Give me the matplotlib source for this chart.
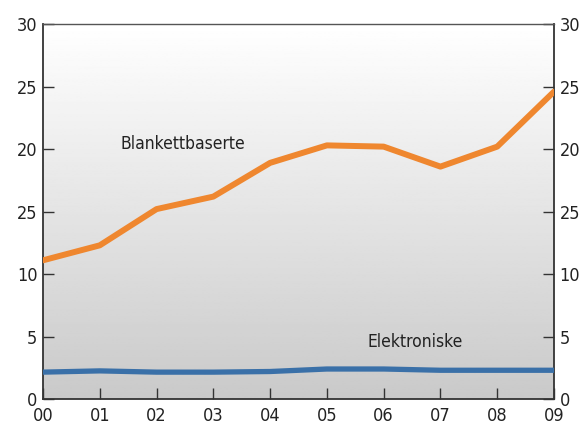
import numpy as np
import matplotlib

matplotlib.use("Agg")
import matplotlib.pyplot as plt

years = ["00", "01", "02", "03", "04", "05", "06", "07", "08", "09"]
blankett = [11.1, 12.3, 15.2, 16.2, 18.9, 20.3, 20.2, 18.6, 20.2, 24.6]
elektronisk = [2.15, 2.25, 2.15, 2.15, 2.2, 2.4, 2.4, 2.3, 2.3, 2.3]
y_ticks = [0, 5, 10, 15, 20, 25, 30]
y_tick_labels = ["0", "5", "10", "25", "20", "25", "30"]

plt.rcParams["font.family"] = ["DejaVu Sans"]
plt.rcParams["font.stretch"] = "condensed"

fig = plt.figure(figsize=(5.85, 4.32), dpi=100)
ax = fig.add_axes([0.0735, 0.0764, 0.8735, 0.8676])

x = np.arange(len(years))

# gradient background: white at top, grey at bottom
grad = np.linspace(0.79, 1.0, 256).reshape(-1, 1)
ax.imshow(grad, cmap="gray", vmin=0, vmax=1, aspect="auto",
          extent=[0, len(years) - 1, 0, 30], origin="lower", zorder=0)

ax.plot(x, blankett, color="#ef872f", lw=4.3, solid_capstyle="round", zorder=3)
ax.plot(x, elektronisk, color="#3a70a8", lw=3.8, solid_capstyle="round", zorder=3)

ax.text(1.36, 20.4, "Blankettbaserte", fontsize=12.5, color="#222222", va="center")
ax.text(5.72, 4.56, "Elektroniske", fontsize=12.5, color="#222222", va="center")

ax.set_xlim(0, len(years) - 1)
ax.set_ylim(0, 30)
ax.set_xticks(x)
ax.set_xticklabels(years)
ax.set_yticks(y_ticks)
ax.set_yticklabels(y_tick_labels)

ax.tick_params(axis="both", direction="in", length=8, width=1, colors="#333333",
               labelsize=13, labelcolor="#222222")
ax.tick_params(axis="y", left=True, right=True, labelleft=True, labelright=True, pad=4)
ax.tick_params(axis="x", pad=6)

for side in ["left", "bottom", "right"]:
    ax.spines[side].set_color("#333333")
    ax.spines[side].set_linewidth(1.3)
ax.spines["top"].set_color("#555555")
ax.spines["top"].set_linewidth(1.0)

fig.savefig("out.png", dpi=100)
